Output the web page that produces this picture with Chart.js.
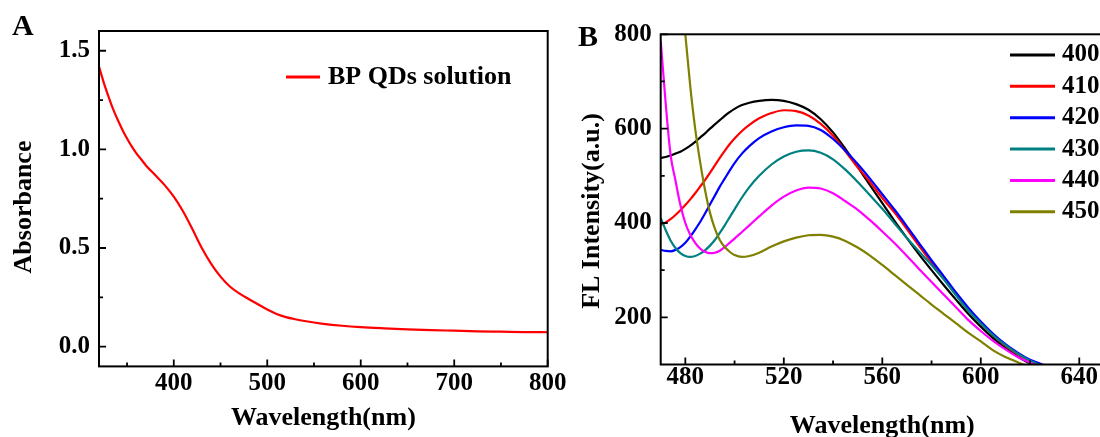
<!DOCTYPE html>
<html>
<head>
<meta charset="utf-8">
<title>BP QDs absorbance and fluorescence</title>
<script src="https://cdn.jsdelivr.net/npm/chart.js@4.4.1/dist/chart.umd.min.js"></script>
<style>
  html, body { margin: 0; padding: 0; background: #fff; overflow: hidden; }
  body { width: 1100px; height: 437px; position: relative; }
  .panel { position: absolute; top: 0; }
  #panelA { left: 0; width: 600px; height: 437px; }
  #panelB { left: 560px; width: 560px; height: 445px; }
</style>
</head>
<body>
<div class="panel" id="panelA"><canvas id="absChart"></canvas></div>
<div class="panel" id="panelB"><canvas id="flChart"></canvas></div>
<script>
// panel A: UV-vis absorbance
const absWavelength = [320, 325, 330, 335, 340, 345, 350, 355, 360, 365, 370, 380, 390, 400, 410, 420, 430, 440, 450, 460, 470,
  480, 490, 500, 510, 520, 530, 540, 560, 580, 600, 625, 650, 675, 700, 725, 750, 775, 800];
const absorbance = [1.42, 1.34, 1.27, 1.205, 1.15, 1.10, 1.055, 1.015, 0.98, 0.95, 0.92, 0.87, 0.82, 0.76, 0.685, 0.595, 0.50, 0.42, 0.355, 0.305, 0.27,
  0.242, 0.215, 0.188, 0.166, 0.15, 0.139, 0.13, 0.116, 0.106, 0.099, 0.093, 0.088, 0.084, 0.081, 0.078, 0.076, 0.074, 0.073];
const absTicksX = [400, 500, 600, 700, 800];
const absTicksY = [0, 0.5, 1.0, 1.5];

// panel B: emission spectra at different excitation wavelengths
const flWavelength = [470, 472, 474, 476, 478, 480, 482, 484, 486, 488, 490, 492, 494, 496, 498, 500, 503, 506, 510, 515,
  520, 525, 530, 535, 540, 545, 550, 555, 560, 565, 570, 575, 580, 585, 590, 595, 600, 605, 610, 615, 620, 625, 630];
const ex400 = [538, 540, 543, 547, 551, 557, 564, 572, 581, 590, 600, 609, 618, 627, 635, 642, 650, 655, 659, 661,
  659, 652, 640, 620, 592, 557, 519, 480, 442, 404, 368, 333, 300, 268, 237, 207, 180, 156, 135, 117, 102, 89, 78];
const ex410 = [396, 401, 408, 417, 427, 438, 450, 463, 477, 491, 506, 522, 538, 553, 567, 579, 595, 608, 622, 633,
  639, 637, 628, 610, 585, 552, 518, 487, 453, 422, 387, 351, 316, 282, 248, 216, 187, 162, 140, 122, 108, 97, 88];
const ex420 = [343, 341, 340, 343, 349, 358, 371, 386, 402, 420, 439, 458, 477, 494, 511, 527, 547, 563, 580, 594,
  603, 607, 606, 597, 578, 553, 525, 494, 461, 428, 393, 357, 321, 287, 252, 220, 191, 165, 143, 125, 110, 100, 91];
const ex430 = [411, 385, 363, 347, 336, 330, 328, 330, 335, 342, 352, 364, 379, 395, 412, 429, 454, 476, 500, 524,
  541, 551, 554, 549, 535, 513, 487, 459, 430, 399, 368, 339, 311, 280, 246, 214, 187, 162, 141, 123, 108, 97, 88];
const ex440 = [786, 655, 545, 490, 438, 400, 375, 358, 346, 339, 336, 337, 341, 349, 358, 367, 381, 395, 414, 437,
  456, 469, 475, 473, 463, 446, 428, 406, 382, 357, 330, 302, 275, 248, 221, 194, 171, 150, 132, 116, 104, 92, 82];
const ex450 = [null, null, null, null, 900, 800, 690, 600, 530, 470, 422, 388, 364, 349, 339, 332, 328, 330, 337, 350,
  361, 369, 374, 375, 371, 362, 348, 331, 311, 290, 269, 248, 227, 207, 187, 167, 149, 130, 116, 105, 94, 84, 75];
const excitation = ['400', '410', '420', '430', '440', '450'];
const flTicksX = [480, 520, 560, 600, 640];
const flTicksY = [200, 400, 600, 800];

const flSeries = [ex400, ex410, ex420, ex430, ex440, ex450];
const flColors = ['#000000', '#ff0000', '#0000ff', '#008080', '#ff00ff', '#808000'];

Chart.defaults.font.family = '"Liberation Serif", "Times New Roman", serif';
Chart.defaults.font.weight = 'bold';
Chart.defaults.color = '#000';

function points(xs, ys) {
  return xs.map((x, i) => ({ x: x, y: ys[i] }));
}

// box around the plot plus inward major/minor ticks on the bottom and left axes
const axisBox = {
  id: 'axisBox',
  afterDraw(chart) {
    const { ctx, chartArea: a, scales } = chart;
    const minors = (scale) => {
      const v = scale.ticks.map(t => t.value);
      const step = v[1] - v[0];
      const out = [];
      for (let i = -1; i < v.length; i++) {
        const m = i < 0 ? v[0] - step / 2 : v[i] + step / 2;
        if (m > scale.min && m < scale.max) out.push(m);
      }
      return out;
    };
    ctx.save();
    ctx.strokeStyle = '#000';
    ctx.lineWidth = 2;
    ctx.strokeRect(a.left, a.top, a.right - a.left, a.bottom - a.top);
    ctx.lineWidth = 1.8;
    ctx.beginPath();
    scales.x.ticks.forEach(t => {
      const px = scales.x.getPixelForValue(t.value);
      ctx.moveTo(px, a.bottom); ctx.lineTo(px, a.bottom - 7);
    });
    minors(scales.x).forEach(v => {
      const px = scales.x.getPixelForValue(v);
      ctx.moveTo(px, a.bottom); ctx.lineTo(px, a.bottom - 4);
    });
    scales.y.ticks.forEach(t => {
      const py = scales.y.getPixelForValue(t.value);
      ctx.moveTo(a.left, py); ctx.lineTo(a.left + 7, py);
    });
    minors(scales.y).forEach(v => {
      const py = scales.y.getPixelForValue(v);
      ctx.moveTo(a.left, py); ctx.lineTo(a.left + 4, py);
    });
    ctx.stroke();
    ctx.restore();
  }
};

// short line + label for each dataset, drawn inside the plot
const lineLegend = {
  id: 'lineLegend',
  afterDraw(chart, args, opts) {
    const ctx = chart.ctx;
    ctx.save();
    ctx.font = opts.font;
    ctx.textBaseline = 'middle';
    ctx.textAlign = 'left';
    chart.data.datasets.forEach((ds, i) => {
      const cy = opts.top + i * opts.rowGap;
      ctx.strokeStyle = ds.borderColor;
      ctx.lineWidth = 3;
      ctx.beginPath();
      ctx.moveTo(opts.left, cy);
      ctx.lineTo(opts.left + opts.lineLength, cy);
      ctx.stroke();
      ctx.fillStyle = '#000';
      ctx.fillText(ds.label, opts.left + opts.lineLength + opts.textGap, cy);
    });
    ctx.restore();
  }
};

// panel letter and the rotated y-axis title
const panelText = {
  id: 'panelText',
  afterDraw(chart, args, opts) {
    const ctx = chart.ctx;
    ctx.save();
    ctx.fillStyle = '#000';
    ctx.font = opts.tagFont;
    ctx.textBaseline = 'alphabetic';
    ctx.textAlign = 'left';
    ctx.fillText(opts.tag, opts.tagX, opts.tagY);
    ctx.translate(opts.yTitleX, opts.yTitleY);
    ctx.rotate(-Math.PI / 2);
    ctx.font = opts.yTitleFont;
    ctx.textAlign = 'center';
    ctx.textBaseline = 'middle';
    ctx.fillText(opts.yTitle, 0, 0);
    ctx.restore();
  }
};

const tickFont = { size: 25, weight: 'bold' };
const titleFont = { size: 26, weight: 'bold' };
const titleCss = 'bold 26px "Liberation Serif", "Times New Roman", serif';

new Chart(document.getElementById('absChart'), {
  type: 'line',
  data: {
    datasets: [{
      label: 'BP QDs solution',
      data: points(absWavelength, absorbance),
      borderColor: '#ff0000',
      borderWidth: 2.2,
      pointRadius: 0,
      cubicInterpolationMode: 'monotone'
    }]
  },
  plugins: [axisBox, lineLegend, panelText],
  options: {
    responsive: true,
    maintainAspectRatio: false,
    animation: false,
    layout: { autoPadding: false, padding: { left: 0, top: 31, right: 52.3, bottom: 0 } },
    scales: {
      x: {
        type: 'linear', min: 320, max: 800,
        afterBuildTicks: s => { s.ticks = absTicksX.map(v => ({ value: v })); },
        afterFit: s => { s.height = 70.6; },
        grid: { display: false, drawTicks: false },
        border: { display: false },
        ticks: { font: tickFont, padding: 2, maxRotation: 0, autoSkip: false },
        title: { display: true, text: 'Wavelength(nm)', font: titleFont, padding: { top: 0, bottom: 3 } }
      },
      y: {
        type: 'linear', min: -0.1, max: 1.6,
        afterBuildTicks: s => { s.ticks = absTicksY.map(v => ({ value: v })); },
        afterFit: s => { s.width = 99; },
        grid: { display: false, drawTicks: false },
        border: { display: false },
        ticks: { font: tickFont, padding: 9, callback: v => v.toFixed(1) }
      }
    },
    plugins: {
      legend: { display: false },
      tooltip: { enabled: false },
      lineLegend: { left: 286, top: 77, rowGap: 0, lineLength: 34, textGap: 8, font: titleCss },
      panelText: {
        tag: 'A', tagX: 12, tagY: 35, tagFont: 'bold 30px "Liberation Serif", serif',
        yTitle: 'Absorbance', yTitleX: 24, yTitleY: 207, yTitleFont: titleCss
      }
    }
  }
});

new Chart(document.getElementById('flChart'), {
  type: 'line',
  data: {
    datasets: flSeries.map((ys, i) => ({
      label: excitation[i],
      data: points(flWavelength, ys),
      borderColor: flColors[i],
      borderWidth: 2.2,
      pointRadius: 0,
      cubicInterpolationMode: 'monotone',
      order: flSeries.length - i
    }))
  },
  plugins: [axisBox, lineLegend, panelText],
  options: {
    responsive: true,
    maintainAspectRatio: false,
    animation: false,
    layout: { autoPadding: false, padding: { left: 0, top: 34.3, right: 16.1, bottom: 0 } },
    scales: {
      x: {
        type: 'linear', min: 470, max: 650,
        afterBuildTicks: s => { s.ticks = flTicksX.map(v => ({ value: v })); },
        afterFit: s => { s.height = 80.5; },
        grid: { display: false, drawTicks: false },
        border: { display: false },
        ticks: { font: tickFont, padding: -2, maxRotation: 0, autoSkip: false },
        title: { display: true, text: 'Wavelength(nm)', font: titleFont, padding: { top: 0, bottom: 3 } }
      },
      y: {
        type: 'linear', min: 100, max: 800,
        afterBuildTicks: s => { s.ticks = flTicksY.map(v => ({ value: v })); },
        afterFit: s => { s.width = 100.7; },
        grid: { display: false, drawTicks: false },
        border: { display: false },
        ticks: { font: tickFont, padding: 9 }
      }
    },
    plugins: {
      legend: { display: false },
      tooltip: { enabled: false },
      lineLegend: { left: 450, top: 55, rowGap: 31.35, lineLength: 45, textGap: 7, font: 'bold 25px "Liberation Serif", serif' },
      panelText: {
        tag: 'B', tagX: 18, tagY: 46, tagFont: 'bold 30px "Liberation Serif", serif',
        yTitle: 'FL Intensity(a.u.)', yTitleX: 32, yTitleY: 211, yTitleFont: titleCss
      }
    }
  }
});
</script>
</body>
</html>
